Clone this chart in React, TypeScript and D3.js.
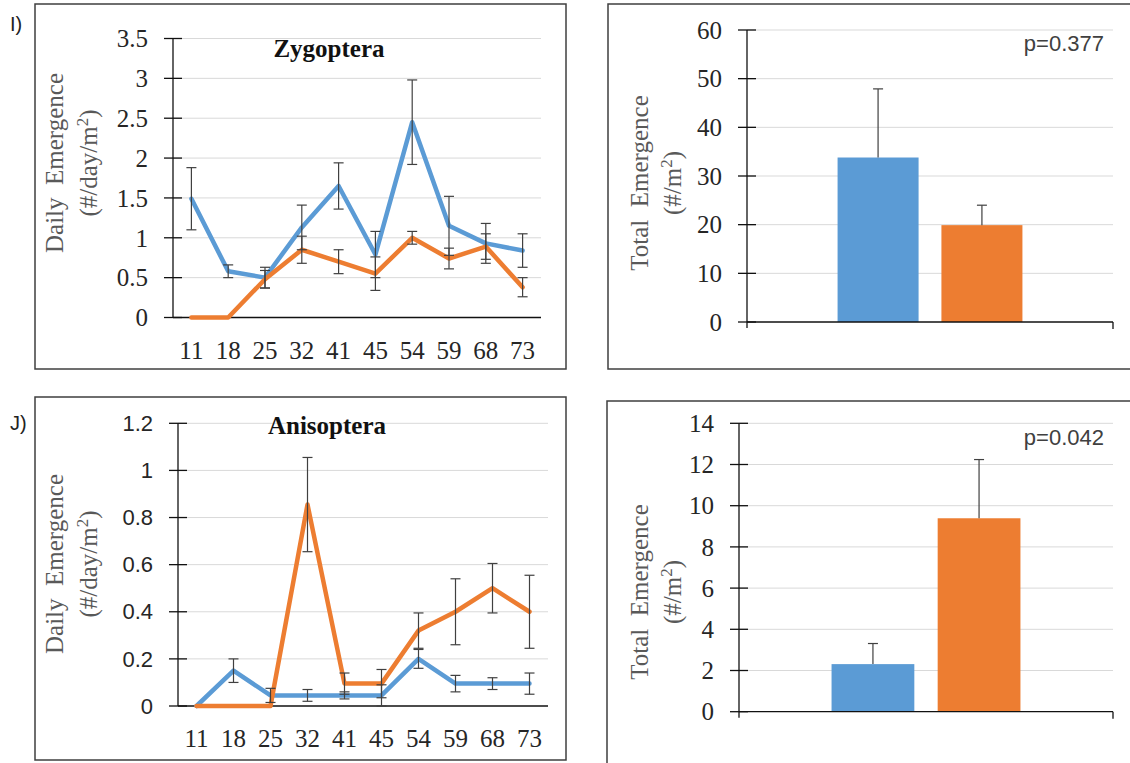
import React from 'react';
import * as d3 from 'd3';

const categories = ['11', '18', '25', '32', '41', '45', '54', '59', '68', '73'];

const zygBlue = [1.49, 0.58, 0.5, 1.13, 1.65, 0.79, 2.45, 1.15, 0.93, 0.84];
const zygBlueErr = [0.39, 0.08, 0.13, 0.28, 0.29, 0.29, 0.53, 0.37, 0.25, 0.21];
const zygOrange = [0, 0, 0.48, 0.85, 0.7, 0.55, 1.0, 0.74, 0.89, 0.38];
const zygOrangeErr = [0, 0, 0.11, 0.17, 0.15, 0.21, 0.08, 0.13, 0.16, 0.12];

const aniBlue = [0, 0.15, 0.045, 0.045, 0.045, 0.045, 0.2, 0.095, 0.095, 0.095];
const aniBlueErr = [0, 0.05, 0.03, 0.025, 0.015, 0.045, 0.04, 0.035, 0.025, 0.045];
const aniOrange = [0, 0, 0, 0.855, 0.095, 0.095, 0.32, 0.4, 0.5, 0.4];
const aniOrangeErr = [0, 0, 0, 0.2, 0.045, 0.06, 0.075, 0.14, 0.105, 0.155];

const treatments = ['blue', 'orange'];
const zygTotals = [33.8, 19.9];
const zygTotalErr = [14.1, 4.1];
const aniTotals = [2.31, 9.39];
const aniTotalErr = [1.0, 2.85];

const BLUE = '#5B9BD5';
const ORANGE = '#ED7D31';
const GRID = '#D9D9D9';
const ERR = '#404040';
const SERIF = '"Liberation Serif", "Times New Roman", serif';
const SANS = '"Liberation Sans", Arial, sans-serif';

const YLabel = ({ cy, b1, b2, line1, unit }) => (
  <g fill="#595959" fontFamily={SERIF} fontSize={25}>
    <text transform={`translate(${b1},${cy}) rotate(-90)`} textAnchor="middle" style={{ whiteSpace: 'pre' }}>
      {line1}
    </text>
    <text transform={`translate(${b2},${cy}) rotate(-90)`} textAnchor="middle">
      {unit}
      <tspan fontSize={17} dy={-9}>2</tspan>
      <tspan dy={9}>)</tspan>
    </text>
  </g>
);

const LinePanel = ({ box, x0, x1, yZero, yTop, max, nTicks, tickFont, tickSize, title, titleX, titleY, tag, tagY, labelCy, series }) => {
  const x = d3.scaleBand().domain(categories).range([x0, x1]);
  const y = d3.scaleLinear().domain([0, max]).range([yZero, yTop]);
  const ticks = y.ticks(nTicks);
  const line = d3.line<number>().x((_, i) => x(categories[i]) + x.bandwidth() / 2).y((d) => y(d));
  return (
    <g>
      <rect x={box.x} y={box.y} width={box.w} height={box.h} fill="none" stroke="#3f3f3f" strokeWidth={1.5} />
      <text x={10} y={tagY} fontFamily={SANS} fontSize={20} fill="#222" dominantBaseline="middle">{tag}</text>
      {ticks.map((t) => (
        <g key={t}>
          {t > 0 && <line x1={x0} x2={x1} y1={y(t)} y2={y(t)} stroke={GRID} strokeWidth={1} />}
          <line x1={x0 - 9} x2={x0 + 9} y1={y(t)} y2={y(t)} stroke="#111" strokeWidth={1.3} />
          <text x={x0 - 25} y={y(t)} dy="0.35em" textAnchor="end" fontFamily={tickFont} fontSize={tickSize} fill="#262626">
            {String(t)}
          </text>
        </g>
      ))}
      <line x1={x0} x2={x0} y1={yTop} y2={yZero} stroke="#111" strokeWidth={1.3} />
      <line x1={x0} x2={x1} y1={yZero} y2={yZero} stroke="#111" strokeWidth={1.3} />
      {categories.map((c) => (
        <text key={c} x={x(c) + x.bandwidth() / 2} y={yZero + 41} textAnchor="middle" fontFamily={SERIF} fontSize={25} fill="#262626">
          {c}
        </text>
      ))}
      <text x={titleX} y={titleY} dy="0.35em" textAnchor="middle" fontFamily={SERIF} fontWeight="bold" fontSize={25} fill="#111">
        {title}
      </text>
      {series.map((s) => (
        <path key={s.color} d={line(s.values)} fill="none" stroke={s.color} strokeWidth={4.5} strokeLinejoin="round" strokeLinecap="round" />
      ))}
      {series.map((s) =>
        s.values.map((v, i) => {
          const e = s.err[i];
          if (!e) return null;
          const cx = x(categories[i]) + x.bandwidth() / 2;
          return (
            <g key={s.color + i} stroke={ERR} strokeWidth={1.2}>
              <line x1={cx} x2={cx} y1={y(v - e)} y2={y(v + e)} />
              <line x1={cx - 5} x2={cx + 5} y1={y(v - e)} y2={y(v - e)} />
              <line x1={cx - 5} x2={cx + 5} y1={y(v + e)} y2={y(v + e)} />
            </g>
          );
        })
      )}
      <YLabel cy={labelCy} b1={63} b2={97} line1="Daily  Emergence" unit="(#/day/m" />
    </g>
  );
};

const BarPanel = ({ box, x0, x1, yZero, yTop, max, nTicks, values, err, pText, pY, labelCy }) => {
  const outer = d3.scaleBand().domain(['all']).range([x0, x1]).paddingOuter(0.49).paddingInner(0);
  const inner = d3.scaleBand().domain(treatments).range([outer('all'), outer('all') + outer.bandwidth()]).paddingInner(0.22);
  const y = d3.scaleLinear().domain([0, max]).range([yZero, yTop]);
  const ticks = y.ticks(nTicks);
  const colors = [BLUE, ORANGE];
  return (
    <g>
      <rect x={box.x} y={box.y} width={box.w} height={box.h} fill="none" stroke="#3f3f3f" strokeWidth={1.5} />
      {ticks.map((t) => (
        <g key={t}>
          {t > 0 && <line x1={x0} x2={x1} y1={y(t)} y2={y(t)} stroke={GRID} strokeWidth={1} />}
          <line x1={x0 - 9} x2={x0 + 9} y1={y(t)} y2={y(t)} stroke="#111" strokeWidth={1.3} />
          <text x={x0 - 25} y={y(t)} dy="0.35em" textAnchor="end" fontFamily={SERIF} fontSize={25} fill="#262626">
            {String(t)}
          </text>
        </g>
      ))}
      {treatments.map((t, i) => (
        <rect key={t} x={inner(t)} width={inner.bandwidth()} y={y(values[i])} height={yZero - y(values[i])} fill={colors[i]} />
      ))}
      {treatments.map((t, i) => {
        const cx = inner(t) + inner.bandwidth() / 2;
        return (
          <g key={t} stroke={ERR} strokeWidth={1.2}>
            <line x1={cx} x2={cx} y1={y(values[i])} y2={y(values[i] + err[i])} />
            <line x1={cx - 5} x2={cx + 5} y1={y(values[i] + err[i])} y2={y(values[i] + err[i])} />
          </g>
        );
      })}
      <line x1={x0} x2={x0} y1={yTop} y2={yZero + 6} stroke="#111" strokeWidth={1.3} />
      <line x1={x0} x2={x1} y1={yZero} y2={yZero} stroke="#111" strokeWidth={1.3} />
      <line x1={x1} x2={x1} y1={yZero} y2={yZero + 7} stroke="#111" strokeWidth={1.3} />
      <text x={1104} y={pY} dy="0.35em" textAnchor="end" fontFamily={SANS} fontSize={22} fill="#404040">{pText}</text>
      <YLabel cy={labelCy} b1={648} b2={681} line1="Total  Emergence" unit="(#/m" />
    </g>
  );
};

export default function App() {
  return (
    <svg width={1130} height={763} style={{ position: 'absolute', left: 0, top: 0, background: '#fff' }}>
      <rect width={1130} height={763} fill="#fff" />
      <LinePanel
        box={{ x: 35, y: 4, w: 531, h: 365 }}
        x0={173} x1={541} yZero={317.5} yTop={38.5} max={3.5} nTicks={7}
        tickFont={SERIF} tickSize={25}
        title="Zygoptera" titleX={329} titleY={48} tag="I)" tagY={26} labelCy={163}
        series={[
          { color: BLUE, values: zygBlue, err: zygBlueErr },
          { color: ORANGE, values: zygOrange, err: zygOrangeErr },
        ]}
      />
      <BarPanel
        box={{ x: 608, y: 4, w: 540, h: 365 }}
        x0={747} x1={1113} yZero={322} yTop={30} max={60} nTicks={6}
        values={zygTotals} err={zygTotalErr} pText="p=0.377" pY={43} labelCy={183}
      />
      <LinePanel
        box={{ x: 35, y: 397, w: 531, h: 363 }}
        x0={178} x1={548} yZero={706} yTop={423.3} max={1.2} nTicks={6}
        tickFont={SANS} tickSize={22}
        title="Anisoptera" titleX={327} titleY={425} tag="J)" tagY={425} labelCy={564}
        series={[
          { color: BLUE, values: aniBlue, err: aniBlueErr },
          { color: ORANGE, values: aniOrange, err: aniOrangeErr },
        ]}
      />
      <BarPanel
        box={{ x: 607, y: 401, w: 540, h: 400 }}
        x0={739} x1={1113} yZero={711.7} yTop={423.3} max={14} nTicks={7}
        values={aniTotals} err={aniTotalErr} pText="p=0.042" pY={437} labelCy={592}
      />
    </svg>
  );
}
